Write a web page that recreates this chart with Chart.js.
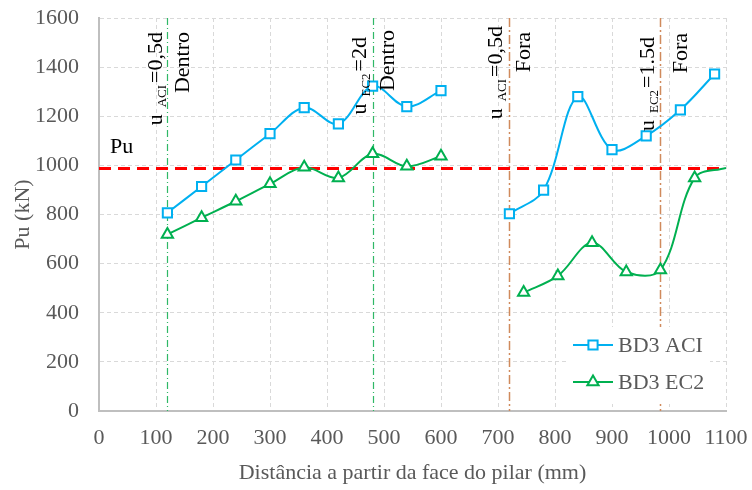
<!DOCTYPE html>
<html><head><meta charset="utf-8">
<script src="https://cdn.jsdelivr.net/npm/chart.js@4.4.1/dist/chart.umd.min.js"></script>
<style>html,body{margin:0;padding:0;background:#fff;}#wrap{width:752px;height:490px;}</style>
</head><body><div id="wrap"><canvas id="c" width="752" height="490"></canvas></div>
<script>
// ---- data ----
const aciLeftX  = [120,180,240,300,360,420,480,540,600];
const aciLeftY  = [807,914,1022,1129,1235,1169,1323,1239,1304];
const aciRightX = [720,780,840,900,960,1020,1080];
const aciRightY = [803,899,1280,1064,1120,1226,1372];
const ec2LeftX  = [120,180,240,300,360,420,480,540,600];
const ec2LeftY  = [719,787,854,925,992,949,1047,996,1037];
const ec2RightX = [745,805,865,925,985,1045,1100];
const ec2RightY = [482,550,685,566,574,949,990];
const seriesNames = ['BD3 ACI','BD3 EC2'];
const puValue = 987;
const puLabel = 'Pu';
const refX     = [120,480,720,985];
const refSub   = ['ACI','EC2','ACI','EC2'];
const refRest  = ['=0,5d','=2d','=0,5d','=1.5d'];
const refLine2 = ['Dentro','Dentro','Fora','Fora'];
const xTitle = 'Distância a partir da face do pilar (mm)';
const yTitle = 'Pu (kN)';

function build(xs1, ys1, xs2, ys2, gapX){
  const d = xs1.map((x,i)=>({x, y: ys1[i]}));
  d.push({x: gapX, y: null});
  xs2.forEach((x,i)=>d.push({x, y: ys2[i]}));
  return d;
}
const aciData = build(aciLeftX, aciLeftY, aciRightX, aciRightY, 660);
const ec2Data = build(ec2LeftX, ec2LeftY, ec2RightX, ec2RightY, 670);

const FONT = '"Liberation Serif", "Times New Roman", serif';
const ACI_COLOR = '#00B0F0', EC2_COLOR = '#00B050';
const refColors = ['#2FB866','#2FB866','#D08A5C','#D08A5C'];
const refWidths = [1.2,1.2,1.5,1.5];
const refOff1 = [-5,-7,-7,-6], refOff2 = [22,21,21,27];
const refTop1 = [32,37,26,37], refTop2 = [32,30,32,33];

function drawMarker(ctx, style, x, y, r, color){
  ctx.save();
  ctx.fillStyle = '#fff'; ctx.strokeStyle = color; ctx.lineWidth = 2; ctx.setLineDash([]);
  ctx.beginPath();
  if (style === 'rect') {
    const s = Math.SQRT1_2 * r;
    ctx.rect(x - s, y - s, 2*s, 2*s);
  } else {
    for (let k=0;k<3;k++){
      const a = k*2*Math.PI/3;
      const px = x + Math.sin(a)*r, py = y - Math.cos(a)*r;
      if (k===0) ctx.moveTo(px,py); else ctx.lineTo(px,py);
    }
    ctx.closePath();
  }
  ctx.fill(); ctx.stroke();
  ctx.restore();
}

function drawRotated(ctx, bx, topY, parts){
  ctx.save();
  ctx.translate(bx, topY); ctx.rotate(-Math.PI/2);
  ctx.textAlign = 'left'; ctx.textBaseline = 'alphabetic'; ctx.fillStyle = '#000';
  let total = 0;
  parts.forEach(p=>{ ctx.font = p.size + 'px ' + FONT; p.w = ctx.measureText(p.t).width; total += p.w + (p.gap||0); });
  let cx = -total;
  parts.forEach(p=>{ ctx.font = p.size + 'px ' + FONT; ctx.fillText(p.t, cx, p.dy||0); cx += p.w + (p.gap||0); });
  ctx.restore();
}

const refPlugin = {
  id: 'refs',
  beforeDatasetsDraw(chart){
    const {ctx, chartArea:a, scales:{x, y}} = chart;
    ctx.save();
    ctx.beginPath(); ctx.rect(a.left, a.top, a.right-a.left, a.bottom-a.top); ctx.clip();
    refX.forEach((v,i)=>{
      const px = Math.round(x.getPixelForValue(v)) + 0.5;
      ctx.strokeStyle = refColors[i]; ctx.lineWidth = refWidths[i];
      ctx.setLineDash(i<2 ? [7,3,1,3] : [9,3,2,3]);
      ctx.beginPath(); ctx.moveTo(px, a.top); ctx.lineTo(px, a.bottom); ctx.stroke();
    });
    const py = y.getPixelForValue(puValue);
    ctx.strokeStyle = '#FF0000'; ctx.lineWidth = 3; ctx.setLineDash([12,7]);
    ctx.beginPath(); ctx.moveTo(a.left, py); ctx.lineTo(a.right, py); ctx.stroke();
    ctx.restore();
  },
  afterDatasetsDraw(chart){
    const {ctx, chartArea:a, scales:{x, y}} = chart;
    refX.forEach((v,i)=>{
      const px = x.getPixelForValue(v);
      drawRotated(ctx, px + refOff1[i], refTop1[i], [
        {t:'u', size:22, gap:7},
        {t:refSub[i], size:13, dy:4, gap:2},
        {t:refRest[i], size:22}
      ]);
      drawRotated(ctx, px + refOff2[i], refTop2[i], [{t:refLine2[i], size:22}]);
    });
    ctx.save();
    ctx.font = '22px ' + FONT; ctx.fillStyle = '#000'; ctx.textAlign='left'; ctx.textBaseline='alphabetic';
    ctx.fillText(puLabel, a.left + 11, y.getPixelForValue(puValue) - 16);
    ctx.restore();
    const bl = a.right - 158, br = a.right - 16, bt = a.bottom - 84, bb = a.bottom - 7;
    ctx.save();
    ctx.fillStyle = '#fff'; ctx.fillRect(bl, bt, br-bl, bb-bt);
    const rows = [a.bottom - 66, a.bottom - 29];
    const cols = [ACI_COLOR, EC2_COLOR], styles = ['rect','triangle'];
    rows.forEach((ry,i)=>{
      ctx.strokeStyle = cols[i]; ctx.lineWidth = 2; ctx.setLineDash([]);
      ctx.beginPath(); ctx.moveTo(bl+5, ry); ctx.lineTo(bl+45, ry); ctx.stroke();
      drawMarker(ctx, styles[i], bl+25, ry, 6.5, cols[i]);
      ctx.font = '22px ' + FONT; ctx.fillStyle = '#595959'; ctx.textAlign='left'; ctx.textBaseline='middle';
      ctx.fillText(seriesNames[i], bl+50, ry+1);
    });
    ctx.restore();
  }
};

const lastIdx = ec2Data.length - 1;
new Chart(document.getElementById('c'), {
  type: 'line',
  data: {
    datasets: [
      { label: seriesNames[0], data: aciData, borderColor: ACI_COLOR, borderWidth: 2,
        pointStyle: 'rect', pointRadius: 6.5, pointBorderWidth: 2, pointBackgroundColor: '#fff',
        pointBorderColor: ACI_COLOR, tension: 0.35, spanGaps: false },
      { label: seriesNames[1], data: ec2Data, borderColor: EC2_COLOR, borderWidth: 2,
        pointStyle: 'triangle', pointRadius: c => c.dataIndex === lastIdx ? 0 : 6.5,
        pointBorderWidth: 2, pointBackgroundColor: '#fff',
        pointBorderColor: EC2_COLOR, tension: 0.35, spanGaps: false }
    ]
  },
  options: {
    responsive: false, animation: false, devicePixelRatio: 1,
    events: [],
    layout: { padding: { top: 18, right: 26, left: 0, bottom: 0 } },
    plugins: { legend: { display: false }, tooltip: { enabled: false } },
    scales: {
      x: {
        type: 'linear', min: 0, max: 1100,
        ticks: { stepSize: 100, color: '#595959', font: { family: FONT, size: 22 }, padding: 14, maxRotation: 0, callback: v => String(v) },
        grid: { color: '#D9D9D9', lineWidth: 1, drawTicks: false },
        border: { color: '#BFBFBF', width: 2, dash: [4,3] },
        title: { display: true, text: xTitle, color: '#595959', font: { family: FONT, size: 22 }, padding: { top: 0, bottom: 4 } },
        afterFit(s){ s.height = 79; s.paddingLeft = 0; s.paddingRight = 0; s.paddingTop = 0; s.paddingBottom = 0; }
      },
      y: {
        min: 0, max: 1600,
        ticks: { stepSize: 200, color: '#595959', font: { family: FONT, size: 22 }, padding: 20, callback: v => String(v) },
        grid: { color: '#D9D9D9', lineWidth: 1, drawTicks: false },
        border: { color: '#BFBFBF', width: 2, dash: [4,3] },
        title: { display: true, text: yTitle, color: '#595959', font: { family: FONT, size: 22 }, padding: { top: 10, bottom: 0 } },
        afterFit(s){ s.width = 99; s.paddingLeft = 0; s.paddingRight = 0; s.paddingTop = 0; s.paddingBottom = 0; }
      }
    }
  },
  plugins: [refPlugin]
});
</script>
</body></html>
